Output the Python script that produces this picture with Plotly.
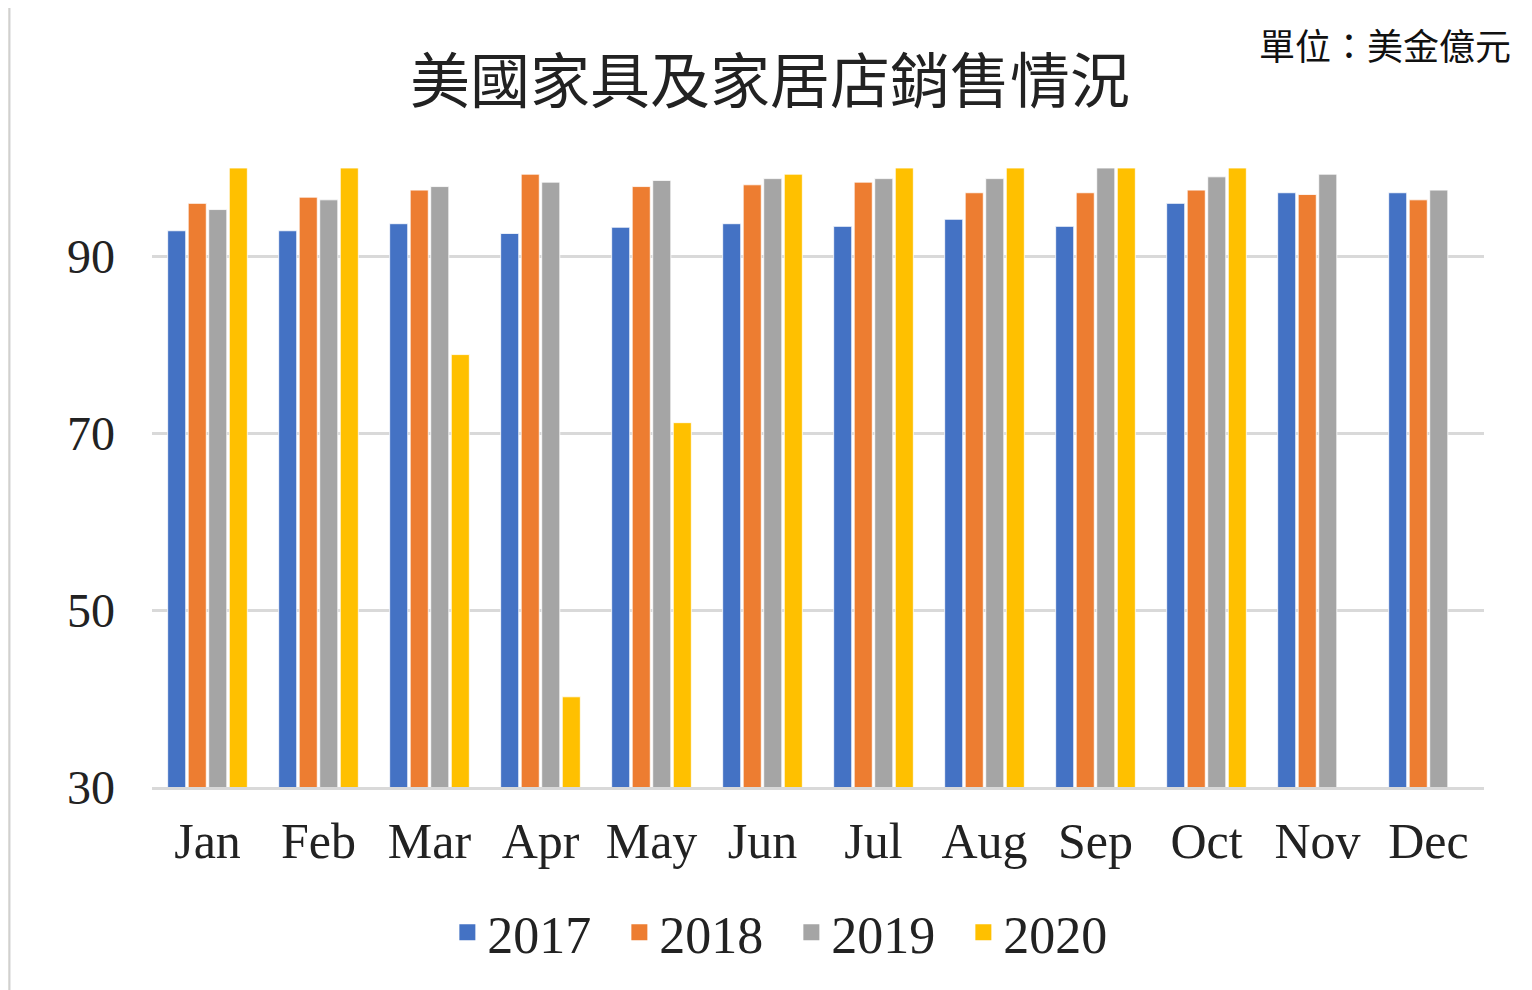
import plotly.graph_objects as go

months = ['Jan', 'Feb', 'Mar', 'Apr', 'May', 'Jun', 'Jul', 'Aug', 'Sep', 'Oct', 'Nov', 'Dec']

# 美金億元 (bars at the top edge are clipped at 100)
sales_2017 = [92.9, 92.9, 93.7, 92.6, 93.3, 93.7, 93.4, 94.2, 93.4, 96.0, 97.2, 97.2]
sales_2018 = [96.0, 96.7, 97.5, 99.3, 97.9, 98.1, 98.4, 97.2, 97.2, 97.5, 97.0, 96.4]
sales_2019 = [95.3, 96.4, 97.9, 98.4, 98.6, 98.8, 98.8, 98.8, 100.0, 99.0, 99.3, 97.5]
sales_2020 = [100.0, 100.0, 78.9, 40.2, 71.2, 99.3, 100.0, 100.0, 100.0, 100.0, None, None]

series = [
    ('2017', sales_2017, '#4472C4'),
    ('2018', sales_2018, '#ED7D31'),
    ('2019', sales_2019, '#A5A5A5'),
    ('2020', sales_2020, '#FFC000'),
]

serif = 'Liberation Serif, Noto Sans CJK TC, serif'
cjk = 'Noto Sans CJK TC, sans-serif'

fig = go.Figure()
for name, vals, color in series:
    fig.add_trace(go.Bar(
        name=name,
        x=months,
        y=vals,
        marker=dict(color=color, line=dict(color='rgba(255,255,255,0.8)', width=1)),
        showlegend=False,
    ))

# legend entries with bigger square swatches
for name, vals, color in series:
    fig.add_trace(go.Scatter(
        name=name,
        x=[None], y=[None],
        mode='markers',
        marker=dict(symbol='square', size=22, color=color),
        showlegend=True,
    ))

fig.update_layout(
    width=1532,
    height=990,
    margin=dict(l=144, r=56, t=160, b=211),
    paper_bgcolor='#EEEBE4',
    plot_bgcolor='rgba(0,0,0,0)',
    barmode='group',
    bargap=0.26,
    bargroupgap=0.12,
    showlegend=True,
    legend=dict(
        orientation='h',
        x=0.48, xanchor='center',
        y=-0.235, yanchor='middle',
        font=dict(family=serif, size=52, color='#222222'),
        bgcolor='rgba(0,0,0,0)',
        itemwidth=30,
        entrywidth=127,
        traceorder='normal',
    ),
    font=dict(family=serif, color='#222222'),
    shapes=[
        dict(type='rect', xref='paper', yref='paper',
             x0=-0.107, x1=1.06, y0=-0.36, y1=1.3,
             fillcolor='white', line=dict(color='#D0D0D0', width=2),
             layer='below'),
    ],
    annotations=[
        dict(text='美國家具及家居店銷售情況', xref='paper', yref='paper',
             x=0.464, y=1.148, xanchor='center', yanchor='middle',
             showarrow=False, font=dict(family=cjk, size=60, color='#222222')),
        dict(text='單位：美金億元', xref='paper', yref='paper',
             x=1.022, y=1.2, xanchor='right', yanchor='middle',
             showarrow=False, font=dict(family=cjk, size=36, color='#111111')),
    ],
)

fig.update_yaxes(
    range=[30, 100],
    tick0=30,
    dtick=20,
    showgrid=True,
    gridcolor='#D9D9D9',
    gridwidth=3,
    zeroline=False,
    showline=False,
    ticks='',
    ticklabelstandoff=36,
    tickfont=dict(family=serif, size=48, color='#222222'),
)

fig.update_xaxes(
    showgrid=False,
    showline=True,
    linecolor='#D9D9D9',
    linewidth=3,
    ticks='',
    ticklabelstandoff=8,
    tickfont=dict(family=serif, size=50, color='#222222'),
)

fig.write_html('out.html')
